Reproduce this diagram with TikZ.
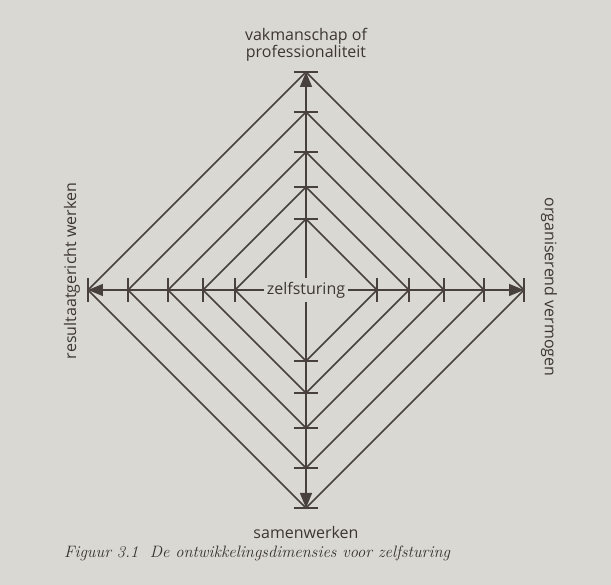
\documentclass[tikz,border=0pt]{standalone}
\usepackage{fontspec}
\setsansfont{Open Sans}
\usetikzlibrary{arrows.meta}
\definecolor{papier}{RGB}{218,216,211}
\definecolor{inkt}{RGB}{72,64,60}

\begin{document}
\begin{tikzpicture}[x=1pt, y=1pt, line width=1.5pt, inkt,
  lbl/.style={font=\sffamily\fontsize{16}{17}\selectfont, text=inkt!85!black, inner sep=0pt},
  pijl/.style={-{Triangle[length=15pt,width=12pt]}}]
  % papier en kader
  \fill[papier] (-306,-295) rectangle (305,290);
  \useasboundingbox (-306,-295) rectangle (305,290);
  % hoekpunten van de buitenste ruit
  \coordinate (T) at (0,218);
  \coordinate (B) at (0,-218);
  \coordinate (L) at (-218,0);
  \coordinate (R) at (218,0);
  % geneste ruiten met streepjes op de assen
  \foreach \r in {218,178,138,103,71} {
    \draw (0,\r) -- (\r,0) -- (0,-\r) -- (-\r,0) -- cycle;
    \draw (-12,\r) -- (12,\r);
    \draw (-12,-\r) -- (12,-\r);
    \draw (\r,-12) -- (\r,12);
    \draw (-\r,-12) -- (-\r,12);
  }
  % middelpunt en assen
  \node[lbl, fill=papier, inner xsep=2pt, inner ysep=3pt] (zs) at (0,0) {zelfsturing};
  \draw[pijl] (zs.north) -- (T);
  \draw[pijl] (zs.south) -- (B);
  \draw[pijl] (zs.west) -- (L);
  \draw[pijl] (zs.east) -- (R);
  % labels bij de assen
  \node[lbl, align=center] (vak) at (0,245) {vakmanschap of\\professionaliteit};
  \node[lbl] (sam) at (0,-243) {samenwerken};
  \node[lbl, rotate=90] (res) at (-234,19) {resultaatgericht werken};
  \node[lbl, rotate=-90] (org) at (243,3) {organiserend vermogen};
  % onderschrift
  \node[anchor=west, font=\itshape\fontsize{16.5}{19}\selectfont, text=inkt!75!black] (cap) at (-246,-263)
    {Figuur 3.1\ \ De ontwikkelingsdimensies voor zelfsturing};
\end{tikzpicture}
\end{document}
